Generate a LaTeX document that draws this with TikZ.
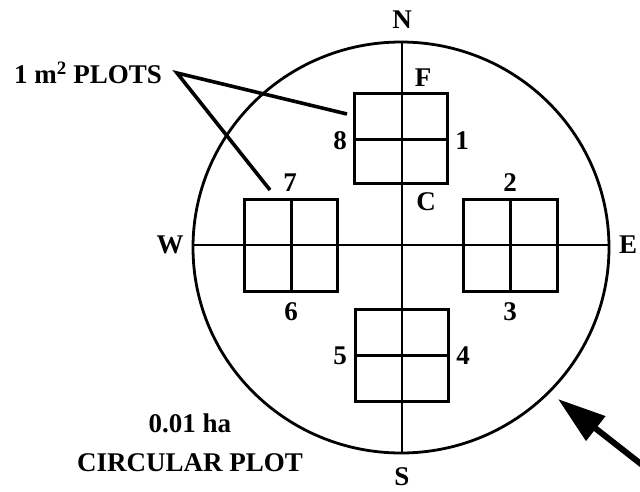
\documentclass[tikz,border=0pt]{standalone}
\usepackage{fontspec}
\setmainfont{Liberation Serif}
\usetikzlibrary{arrows.meta}
\begin{document}
\begin{tikzpicture}[x=1pt,y=-1pt,
  lbl/.style={font=\fontsize{27}{29}\selectfont\bfseries, inner sep=0pt},
  plotbox/.style={draw, line width=3pt},
  axis/.style={line width=2.4pt},
  leader/.style={line width=3.6pt}]
\useasboundingbox (0,0) rectangle (640,491);
% circle
\draw[line width=2.8pt] (401,247.5) ellipse [x radius=208, y radius=205.5];
\coordinate (ntop) at (402,42);
\coordinate (sbot) at (402,453);
\coordinate (wend) at (193,245);
\coordinate (eend) at (608,245);
\draw[axis] (ntop) -- (sbot);
\draw[axis] (wend) -- (eend);
% plots
\draw[plotbox] (354,93) rectangle (447,183);
\draw[line width=3pt] (354,139) -- (447,139);
\draw[plotbox] (355,309) rectangle (448,401);
\draw[line width=3pt] (355,355) -- (448,355);
\draw[plotbox] (244,199) rectangle (337,291);
\draw[line width=3pt] (291,199) -- (291,291);
\draw[plotbox] (463,199) rectangle (557,291);
\draw[line width=3pt] (510,199) -- (510,291);
% labels
\node[lbl] (N) at (402,20) {N};
\node[lbl] (S) at (402,477) {S};
\node[lbl] (W) at (170,245) {W};
\node[lbl] (E) at (628,245) {E};
\node[lbl] (F) at (423,78) {F};
\node[lbl] (C) at (426,202) {C};
\node[lbl] (l8) at (340,141) {8};
\node[lbl] (l1) at (462,141) {1};
\node[lbl] (l7) at (290,183) {7};
\node[lbl] (l2) at (510,183) {2};
\node[lbl] (l6) at (291,312) {6};
\node[lbl] (l3) at (510,312) {3};
\node[lbl] (l5) at (340,356) {5};
\node[lbl] (l4) at (463,356) {4};
\node[lbl] (plots) at (88,73) {1 m\textsuperscript{2} PLOTS};
\node[lbl, align=center, font=\fontsize{27}{39}\selectfont\bfseries] (circ) at (190,443) {0.01 ha\\CIRCULAR PLOT};
% leaders
\coordinate (vtx) at (177,73);
\coordinate (p1) at (347,114);
\coordinate (p2) at (270,190);
\draw[leader, line join=miter] (p1) -- (vtx) -- (p2);
% arrow
\coordinate (atail) at (655,475);
\coordinate (atip) at (558,399);
\draw[line width=6pt, -{Triangle[length=48pt,width=30pt]}] (atail) -- (atip);
\end{tikzpicture}
\end{document}
